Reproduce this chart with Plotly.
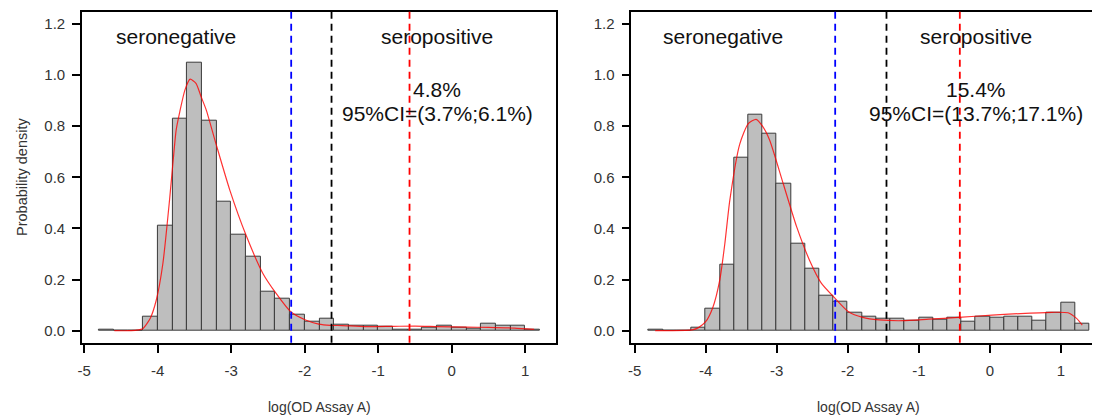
import plotly.graph_objects as go

# histogram bins (width 0.2), centres shared by both panels
bin_centers = [-4.7, -4.5, -4.3, -4.1, -3.9, -3.7, -3.5, -3.3, -3.1, -2.9,
               -2.7, -2.5, -2.3, -2.1, -1.9, -1.7, -1.5, -1.3, -1.1, -0.9,
               -0.7, -0.5, -0.3, -0.1, 0.1, 0.3, 0.5, 0.7, 0.9, 1.1, 1.3]
bin_width = 0.2

hist_left = [0.004, 0, 0, 0.055, 0.41, 0.83, 1.05, 0.82, 0.505, 0.375,
             0.29, 0.153, 0.126, 0.061, 0.034, 0.047, 0.022, 0.018, 0.018, 0.014,
             0.003, 0.003, 0.01, 0.021, 0.01, 0.008, 0.029, 0.021, 0.021, 0.005, None]
hist_right = [0.005, 0, 0, 0.01, 0.087, 0.26, 0.678, 0.844, 0.772, 0.574,
              0.342, 0.244, 0.135, 0.112, 0.07, 0.055, 0.048, 0.048, 0.039, 0.05,
              0.042, 0.05, 0.034, 0.055, 0.05, 0.053, 0.053, 0.041, 0.07, 0.11, 0.027]

# fitted densities
dens_left_x = [-4.59, -4.4, -4.29, -4.2, -4.1, -4.02, -3.93, -3.84, -3.79, -3.75,
               -3.70, -3.63, -3.56, -3.48, -3.41, -3.34, -3.21, -3.02, -2.80, -2.57,
               -2.39, -2.19, -1.99, -1.81, -1.65, -1.49, -1.18, -0.8, -0.5, -0.2,
               0.2, 0.5, 0.85, 1.12]
dens_left_y = [0.0, 0.0, 0.002, 0.009, 0.05, 0.12, 0.264, 0.511, 0.668, 0.785,
               0.857, 0.942, 0.984, 0.968, 0.915, 0.863, 0.733, 0.55, 0.374, 0.224,
               0.146, 0.074, 0.042, 0.026, 0.021, 0.02, 0.016, 0.017, 0.018, 0.016,
               0.014, 0.013, 0.01, 0.005]

dens_right_x = [-4.71, -4.5, -4.19, -4.1, -4.0, -3.9, -3.8, -3.73, -3.66, -3.52,
                -3.4, -3.29, -3.2, -3.1, -2.91, -2.72, -2.54, -2.37, -2.19, -1.99,
                -1.79, -1.56, -1.23, -0.86, -0.44, 0.03, 0.5, 0.87, 1.1, 1.22, 1.3]
dens_right_y = [0.0, 0.0, 0.003, 0.012, 0.035, 0.09, 0.2, 0.34, 0.51, 0.73,
                0.81, 0.827, 0.8, 0.746, 0.577, 0.407, 0.277, 0.185, 0.13, 0.074,
                0.052, 0.042, 0.039, 0.045, 0.052, 0.061, 0.068, 0.072, 0.07, 0.048, 0.022]

# cut-offs: blue, black, red
cutoffs_left = [-2.185, -1.636, -0.575]
cutoffs_right = [-2.177, -1.455, -0.423]
cutoff_colors = ['#0000FF', '#000000', '#FF0000']

prevalence = ['4.8%', '15.4%']
ci_text = ['95%CI=(3.7%;6.1%)', '95%CI=(13.7%;17.1%)']
region_labels = ['seronegative', 'seropositive']

x_ticks = [-5, -4, -3, -2, -1, 0, 1]
x_ticktext = ['-5', '-4', '-3', '-2', '-1', '0', '1']
y_ticks = [0, 0.2, 0.4, 0.6, 0.8, 1.0, 1.2]
y_ticktext = ['0.0', '0.2', '0.4', '0.6', '0.8', '1.0', '1.2']

FONT = 'Liberation Sans, Arial, sans-serif'
W, H = 1100, 408

fig = go.Figure()

panels = [
    ('x', 'y', hist_left, dens_left_x, dens_left_y, cutoffs_left, 0),
    ('x2', 'y2', hist_right, dens_right_x, dens_right_y, cutoffs_right, 1),
]

big = dict(showarrow=False, xanchor='center', yanchor='middle',
           font=dict(size=21, color='#111'))

for xa, ya, hist, dx, dy, cuts, i in panels:
    fig.add_trace(go.Bar(
        x=bin_centers, y=hist, width=bin_width, xaxis=xa, yaxis=ya,
        marker=dict(color='#BEBEBE', line=dict(color='#3a3a3a', width=1)),
        showlegend=False, hoverinfo='skip'))
    fig.add_trace(go.Scatter(
        x=dx, y=dy, mode='lines', xaxis=xa, yaxis=ya,
        line=dict(color='rgba(255,0,0,0.8)', width=1.2, shape='spline', smoothing=0.6),
        showlegend=False, hoverinfo='skip'))
    for c, col in zip(cuts, cutoff_colors):
        fig.add_shape(type='line', xref=xa, yref=ya + ' domain',
                      x0=c, x1=c, y0=0, y1=1,
                      line=dict(color=col, width=1.8, dash='7px,5px'))
    fig.add_annotation(x=-3.75, y=1.15, xref=xa, yref=ya, text=region_labels[0], **big)
    fig.add_annotation(x=-0.2, y=1.15, xref=xa, yref=ya, text=region_labels[1], **big)
    fig.add_annotation(x=-0.2, y=0.942, xref=xa, yref=ya, text=prevalence[i], **big)
    fig.add_annotation(x=-0.2, y=0.85, xref=xa, yref=ya, text=ci_text[i], **big)
    fig.add_annotation(x=[308.7, 861.3][i] / W, y=(H - 398.7) / H, xref='paper', yref='paper',
                       text='log(OD Assay A)', showarrow=False,
                       xanchor='center', yanchor='middle',
                       font=dict(size=14, color='#333'))

fig.add_annotation(x=10 / W, y=(H - 169) / H, xref='paper', yref='paper',
                   text='Probability density', textangle=-90, showarrow=False,
                   xanchor='center', yanchor='middle',
                   font=dict(size=14.5, color='#333'))

axis_common = dict(showline=True, linecolor='black', linewidth=1.5, ticks='outside',
                   tickcolor='black', tickwidth=1.5, showgrid=False, zeroline=False,
                   mirror=True, tickfont=dict(size=15, color='#333'))

y_dom = [(H - 334.7) / H, (H - 3.7) / H]

fig.update_layout(
    width=W, height=H,
    margin=dict(l=0, r=0, t=0, b=0),
    paper_bgcolor='white', plot_bgcolor='white',
    font=dict(family=FONT),
    bargap=0,
    xaxis=dict(domain=[70.3 / W, 547 / W], range=[-5.032, 1.418], anchor='y',
               tickvals=x_ticks, ticktext=x_ticktext, ticklen=9, ticklabelstandoff=5,
               **axis_common),
    yaxis=dict(domain=y_dom, range=[-0.047, 1.248], anchor='x',
               tickvals=y_ticks, ticktext=y_ticktext, ticklen=8, ticklabelstandoff=4,
               **axis_common),
    xaxis2=dict(domain=[622.7 / W, 1.0], range=[-5.046, 1.634], anchor='y2',
                tickvals=x_ticks, ticktext=x_ticktext, ticklen=9, ticklabelstandoff=5,
                **axis_common),
    yaxis2=dict(domain=y_dom, range=[-0.047, 1.248], anchor='x2',
                tickvals=y_ticks, ticktext=y_ticktext, ticklen=8, ticklabelstandoff=4,
                **axis_common),
)

fig.write_html("out.html")
